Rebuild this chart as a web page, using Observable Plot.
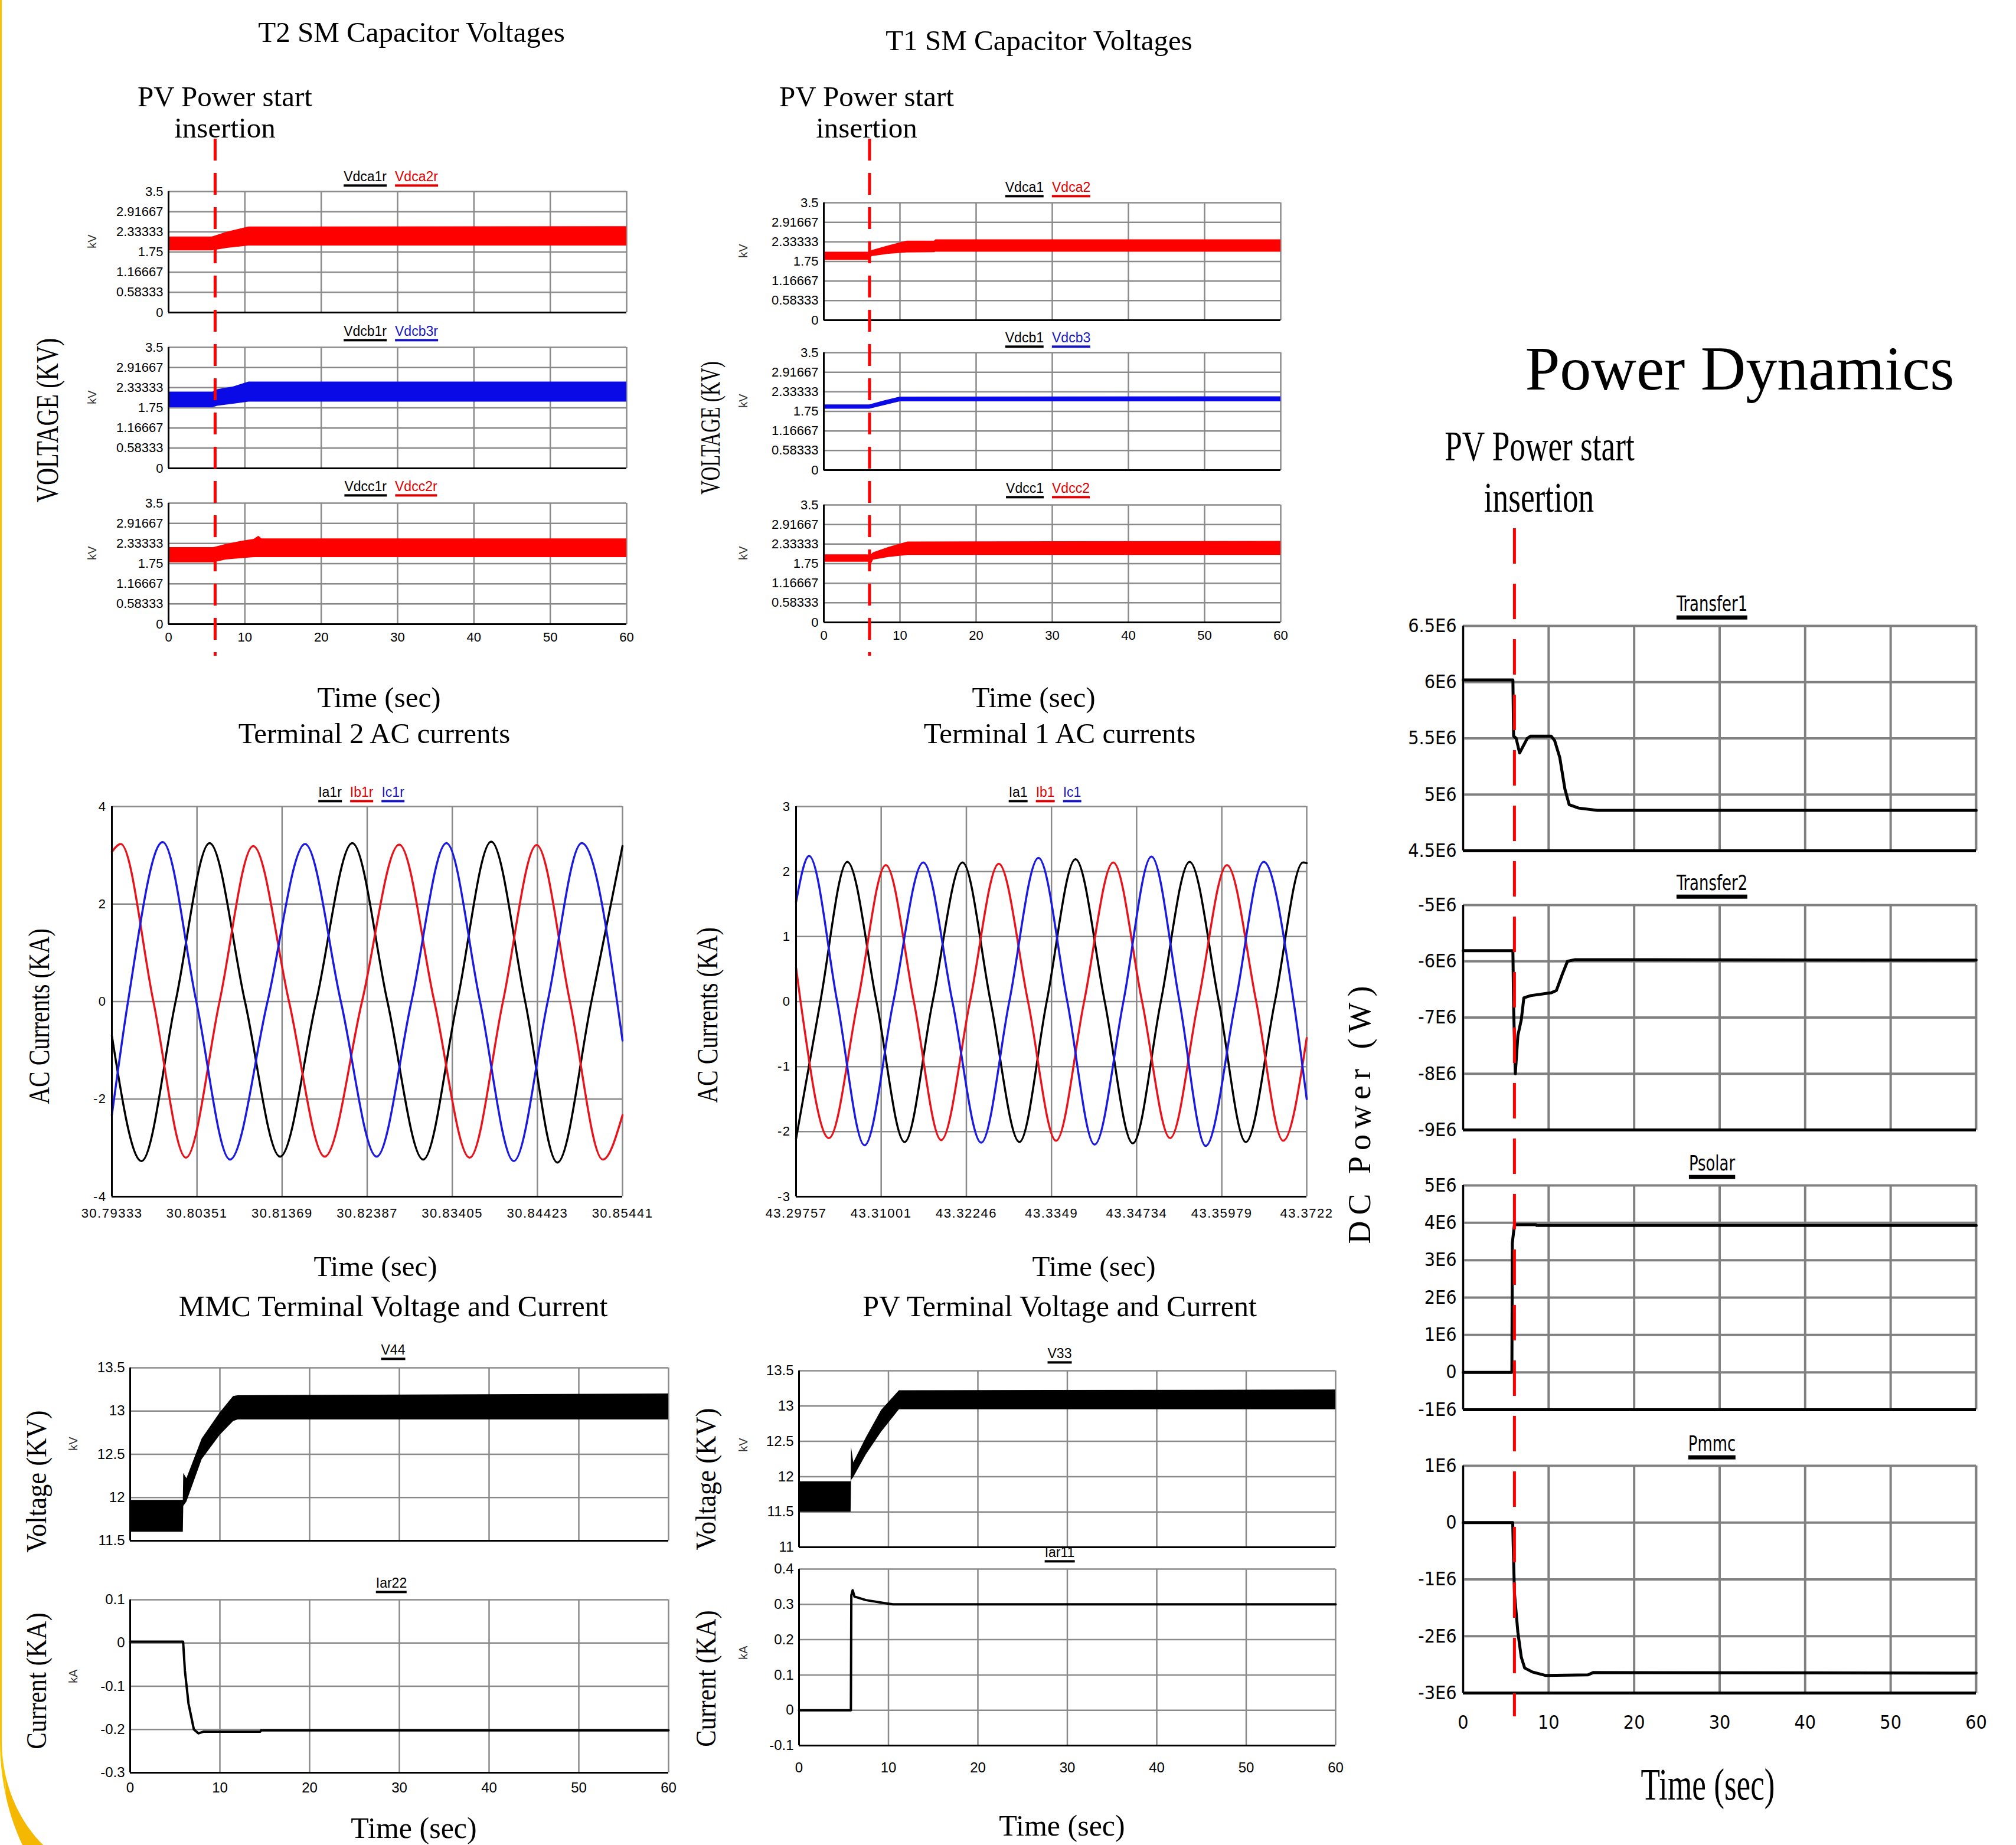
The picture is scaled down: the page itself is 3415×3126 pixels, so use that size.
<!DOCTYPE html>
<html><head><meta charset="utf-8">
<script src="https://cdn.jsdelivr.net/npm/d3@7"></script>
<script src="https://cdn.jsdelivr.net/npm/@observablehq/plot@0.6"></script>
<style>
html,body{margin:0;padding:0;background:#fff;}
#root{position:relative;width:3415px;height:3126px;overflow:hidden;background:#fff;}
.lbl{position:absolute;white-space:nowrap;transform-origin:50% 50%;line-height:1;}
.deco{position:absolute;left:0;top:-20px;width:3600px;height:3270px;border-left:3px solid #f6c400;border-bottom:70px solid #f4b800;border-bottom-left-radius:200px 300px;box-sizing:border-box;}
</style></head><body><div id="root"><div class="deco"></div></div><script>
// ---------------- DATA ----------------
const timeTicks = [0, 10, 20, 30, 40, 50, 60];
const smTicks = [0, 0.58333, 1.16667, 1.75, 2.33333, 2.91667, 3.5];
const insertionTime = [6.1, 6.0, 6.0]; // T2 panel, T1 panel, power panel

// T2 SM capacitor voltage envelopes [t, low, high] (kV)
const t2Vdca2r = [[0,1.79,2.19],[5.7,1.79,2.19],[7.7,1.86,2.33],[10.5,1.93,2.48],[60,1.93,2.49]];
const t2Vdcb3r = [[0,1.76,2.21],[5.8,1.76,2.21],[6.4,1.80,2.28],[8.5,1.86,2.36],[10.5,1.92,2.50],[60,1.92,2.50]];
const t2Vdcc2r = [[0,1.78,2.22],[5.9,1.78,2.22],[7.5,1.86,2.31],[9.5,1.90,2.40],[11.2,1.93,2.46],[11.8,1.93,2.55],[12.2,1.93,2.47],[60,1.93,2.47]];
// T1 SM capacitor voltage envelopes
const t1Vdca2 = [[0,1.79,2.03],[6.0,1.79,2.03],[6.3,1.90,2.08],[8.5,1.97,2.22],[10.9,2.01,2.36],[14.5,2.02,2.36],[14.7,2.03,2.40],[60,2.03,2.40]];
const t1Vdcb3 = [[0,1.82,1.95],[6.0,1.82,1.95],[8,1.93,2.07],[10,2.04,2.18],[60,2.04,2.19]];
const t1Vdcc2 = [[0,1.80,2.02],[5.9,1.80,2.02],[6.1,1.68,2.00],[6.5,1.86,2.08],[8.5,1.94,2.24],[11,2.00,2.40],[60,2.00,2.42]];

// Terminal 2 AC currents [t, kA]
const t2AcTicks = [30.79333, 30.80351, 30.81369, 30.82387, 30.83405, 30.84423, 30.85441];
const ia1r = [[30.79333,-0.70],[30.79688,-3.27],[30.80095,0],[30.80502,3.25],[30.80925,0],[30.81345,-3.18],[30.81777,0],[30.82209,3.25],[30.82629,0],[30.83057,-3.24],[30.83464,0],[30.83870,3.28],[30.84277,0],[30.84662,-3.30],[30.85069,0],[30.85441,3.19]];
const ib1r = [[30.79333,3.07],[30.79440,3.23],[30.79830,0],[30.80219,-3.20],[30.80621,0],[30.81024,3.19],[30.81452,0],[30.81880,-3.18],[30.82325,0],[30.82770,3.22],[30.83190,0],[30.83613,-3.20],[30.84011,0],[30.84414,3.21],[30.84812,0],[30.85206,-3.24],[30.85441,-2.33]];
const ic1r = [[30.79333,-2.33],[30.79526,0],[30.79941,3.27],[30.80343,0],[30.80746,-3.24],[30.81195,0],[30.81644,3.23],[30.82072,0],[30.82500,-3.18],[30.82916,0],[30.83335,3.25],[30.83737,0],[30.84140,-3.27],[30.84546,0],[30.84953,3.25],[30.85441,-0.80]];
// Terminal 1 AC currents
const t1AcTicks = [43.29757, 43.31001, 43.32246, 43.3349, 43.34734, 43.35979, 43.3722];
const ia1 = [[43.29757,-2.11],[43.30112,0],[43.30506,2.15],[43.30932,0],[43.31343,-2.16],[43.31753,0],[43.32190,2.14],[43.32600,0],[43.33021,-2.16],[43.33420,0],[43.33841,2.19],[43.34268,0],[43.34678,-2.18],[43.35088,0],[43.35509,2.15],[43.35935,0],[43.36329,-2.16],[43.36755,0],[43.37165,2.14],[43.3722,2.13]];
const ib1 = [[43.29757,0.52],[43.29823,0],[43.30238,-2.10],[43.30659,0],[43.31069,2.10],[43.31479,0],[43.31878,-2.13],[43.32299,0],[43.32720,2.12],[43.33147,0],[43.33557,-2.14],[43.33967,0],[43.34393,2.14],[43.34814,0],[43.35224,-2.10],[43.35635,0],[43.36055,2.10],[43.36482,0],[43.36876,-2.14],[43.3722,-0.56]];
const ic1 = [[43.29757,1.53],[43.29948,2.24],[43.30358,0],[43.30758,-2.21],[43.31179,0],[43.31616,2.14],[43.32042,0],[43.32463,-2.17],[43.32873,0],[43.33300,2.21],[43.33721,0],[43.34120,-2.20],[43.34541,0],[43.34951,2.23],[43.35361,0],[43.35744,-2.22],[43.36181,0],[43.36591,2.15],[43.37029,0],[43.3722,-1.50]];

// MMC terminal
const v44 = [[0,11.60,11.97],[5.9,11.60,11.97],[5.95,11.90,12.28],[6.3,11.95,12.22],[8,12.44,12.68],[10,12.72,12.98],[11.5,12.88,13.17],[12,12.90,13.18],[60,12.90,13.20]];
const iar22 = [[0,0.003],[5.9,0.003],[6.1,-0.064],[6.5,-0.14],[7.1,-0.20],[7.6,-0.209],[8.2,-0.205],[14.5,-0.205],[14.6,-0.202],[60,-0.202]];
// PV terminal
const v33 = [[0,11.50,11.93],[5.8,11.50,11.93],[5.85,11.95,12.42],[6.1,11.99,12.20],[7.5,12.31,12.55],[9.2,12.63,12.94],[11.2,12.95,13.22],[60,12.95,13.23]];
const iar11 = [[0,0],[5.8,0],[5.85,0.326],[6.0,0.34],[6.2,0.322],[7.5,0.312],[9.7,0.303],[10.5,0.30],[60,0.30]];

// Power dynamics [t, W]
const transfer1 = [[0,6.02e6],[5.82,6.02e6],[5.9,5.52e6],[6.2,5.50e6],[6.6,5.37e6],[7.5,5.50e6],[7.9,5.52e6],[10.3,5.52e6],[10.7,5.48e6],[11.3,5.33e6],[11.9,5.05e6],[12.4,4.91e6],[13.5,4.88e6],[15.7,4.86e6],[60,4.86e6]];
const transfer2 = [[0,-5.81e6],[5.82,-5.81e6],[5.9,-6.8e6],[6.1,-8.0e6],[6.4,-7.32e6],[6.8,-7.04e6],[7.1,-6.65e6],[7.9,-6.61e6],[10.3,-6.56e6],[10.9,-6.52e6],[11.6,-6.23e6],[12.2,-6.0e6],[13.1,-5.97e6],[60,-5.98e6]];
const psolar = [[0,0],[5.7,0],[5.75,3.46e6],[6.0,3.95e6],[8.5,3.95e6],[8.6,3.93e6],[60,3.93e6]];
const pmmc = [[0,0],[5.8,0],[5.85,-0.36e6],[6.0,-1.24e6],[6.4,-1.93e6],[6.8,-2.37e6],[7.2,-2.56e6],[8.1,-2.63e6],[9.6,-2.69e6],[14.6,-2.68e6],[15.2,-2.64e6],[60,-2.65e6]];

// ---------------- HELPERS ----------------
const root = document.getElementById("root");
const SERIF = "'Liberation Serif','Times New Roman',serif";
const SANS = "'Liberation Sans',Arial,sans-serif";
const NARROW = "'Liberation Sans Narrow','DejaVu Sans Condensed','Liberation Sans',sans-serif";
const RED = "#ff0000", BLUE = "#0a0ae6", LRED = "#e8141c", LBLUE = "#1a1ae0";

function label(text, cx, cy, {size=50, font=SERIF, rotate=0, sx=1, color="#000", ls=0}={}) {
  const d = document.createElement("div");
  d.className = "lbl"; d.textContent = text;
  d.style.left = cx + "px"; d.style.top = cy + "px";
  d.style.fontSize = size + "px"; d.style.fontFamily = font; d.style.color = color;
  if (ls) d.style.letterSpacing = ls + "px";
  d.style.transform = `translate(-50%,-50%) rotate(${rotate}deg) scaleX(${sx})`;
  root.appendChild(d);
}
function legend(items, cx, cy, {size=23, font=SANS, bar=4, gap=14, sx=1}={}) {
  const d = document.createElement("div"); d.className = "lbl";
  d.style.left = cx + "px"; d.style.top = cy + "px"; d.style.display = "flex"; d.style.gap = gap + "px";
  d.style.transform = `translate(-50%,-50%) scaleX(${sx})`;
  for (const [name, color] of items) {
    const s = document.createElement("span"); s.textContent = name;
    s.style.color = color; s.style.fontSize = size + "px"; s.style.fontFamily = font;
    s.style.borderBottom = `${bar}px solid ${color}`; s.style.lineHeight = "1.1";
    d.appendChild(s);
  }
  root.appendChild(d);
}
function chart({left, top, w, h, xDomain=[0,60], xTicks=timeTicks, showX=false, yDomain, yTicks, yFmt=String, xFmt=String,
                marks=[], font=SANS, size=22, grid="#8a8a8a", gridW=2.5, axisW=3, bottomW=3, xPad=12, yPad=9, ls=0}) {
  const mL = 170, mR = 40, mT = 20, mB = showX ? 70 : 20;
  const p = Plot.plot({
    width: w + mL + mR, height: h + mT + mB,
    marginLeft: mL, marginRight: mR, marginTop: mT, marginBottom: mB,
    style: {fontSize: size + "px", fontFamily: font, color: "#000", background: "transparent", overflow: "visible", letterSpacing: ls + "px"},
    x: {domain: xDomain, ticks: xTicks, tickFormat: xFmt, tickSize: 0, tickPadding: xPad, label: null, axis: showX ? "bottom" : null},
    y: {domain: yDomain, ticks: yTicks, tickFormat: yFmt, tickSize: 0, tickPadding: yPad, label: null, axis: "left"},
    marks: [
      Plot.ruleX(xTicks, {stroke: grid, strokeOpacity: 1, strokeWidth: gridW}),
      Plot.ruleY(yTicks, {stroke: grid, strokeOpacity: 1, strokeWidth: gridW}),
      ...marks,
      Plot.ruleX([xDomain[0]], {stroke: "#000", strokeWidth: axisW}),
      Plot.ruleY([yDomain[0]], {stroke: "#000", strokeWidth: bottomW})
    ]
  });
  p.style.position = "absolute"; p.style.left = (left - mL) + "px"; p.style.top = (top - mT) + "px";
  root.appendChild(p);
}
function dashed(left, w, y0, y1, t, dash, sw) {
  const p = Plot.plot({
    width: w, height: y1 - y0, margin: 0,
    x: {domain: [0, 60], axis: null},
    style: {background: "transparent", overflow: "visible"},
    marks: [Plot.ruleX([t], {stroke: "#ff0000", strokeWidth: sw, strokeDasharray: dash})]
  });
  p.style.position = "absolute"; p.style.left = left + "px"; p.style.top = y0 + "px";
  root.appendChild(p);
}
const band = (data, color) => Plot.areaY(data, {x: d => d[0], y1: d => d[1], y2: d => d[2], fill: color, curve: "linear"});
const ln = (data, color, sw, curve="linear") => Plot.line(data, {x: d => d[0], y: d => d[1], stroke: color, strokeWidth: sw, curve});

// ---------------- T2 SM ----------------
label("T2 SM Capacitor Voltages", 697, 54, {size: 49});
label("PV Power start", 381, 163, {size: 49});
label("insertion", 381, 216, {size: 49});
label("VOLTAGE (KV)", 80, 712, {size: 53, rotate: -90, sx: 0.76});
const t2Subs = [
  {top: 324, data: t2Vdca2r, color: RED, leg: [["Vdca1r","#000"],["Vdca2r","#d00"]], ly: 302},
  {top: 588, data: t2Vdcb3r, color: BLUE, leg: [["Vdcb1r","#000"],["Vdcb3r","#1515c0"]], ly: 564},
  {top: 852, data: t2Vdcc2r, color: RED, leg: [["Vdcc1r","#000"],["Vdcc2r","#d00"]], ly: 827}
];
t2Subs.forEach((s, i) => {
  chart({left: 285, top: s.top, w: 776, h: 205, yDomain: [0, 3.5], yTicks: smTicks, showX: i === 2, xPad: 14,
         marks: [band(s.data, s.color)]});
  legend(s.leg, 662, s.ly);
  label("kV", 156, s.top + 85, {size: 20, font: SANS, rotate: -90, color: "#333"});
});
label("Time (sec)", 642, 1181, {size: 49});

// ---------------- T1 SM ----------------
label("T1 SM Capacitor Voltages", 1760, 68, {size: 49});
label("PV Power start", 1468, 163, {size: 49});
label("insertion", 1468, 216, {size: 49});
label("VOLTAGE (KV)", 1204, 725, {size: 46, rotate: -90, sx: 0.71});
const t1Subs = [
  {top: 343, data: t1Vdca2, color: RED, leg: [["Vdca1","#000"],["Vdca2","#d00"]], ly: 320},
  {top: 597, data: t1Vdcb3, color: BLUE, leg: [["Vdcb1","#000"],["Vdcb3","#1515c0"]], ly: 575},
  {top: 855, data: t1Vdcc2, color: RED, leg: [["Vdcc1","#000"],["Vdcc2","#d00"]], ly: 830}
];
t1Subs.forEach((s, i) => {
  chart({left: 1395, top: s.top, w: 774, h: 199, yDomain: [0, 3.5], yTicks: smTicks, showX: i === 2, xPad: 14,
         marks: [band(s.data, s.color)]});
  legend(s.leg, 1775, s.ly);
  label("kV", 1259, s.top + 82, {size: 20, font: SANS, rotate: -90, color: "#333"});
});
label("Time (sec)", 1751, 1181, {size: 49});

dashed(285, 776, 235, 1111, insertionTime[0], "37,21", 5);
dashed(1395, 774, 235, 1111, insertionTime[1], "37,21", 5);

// ---------------- AC currents ----------------
label("Terminal 2 AC currents", 634, 1242, {size: 49});
label("AC Currents (KA)", 66, 1722, {size: 50, rotate: -90, sx: 0.8});
chart({left: 189, top: 1366, w: 865, h: 661, xDomain: [30.79333, 30.85441], xTicks: t2AcTicks, showX: true,
       yDomain: [-4, 4], yTicks: [-4, -2, 0, 2, 4], xPad: 20, ls: 1.5,
       marks: [ln(ia1r, "#000", 3.5, "monotone-x"), ln(ib1r, LRED, 3.5, "monotone-x"), ln(ic1r, LBLUE, 3.5, "monotone-x")]});
legend([["Ia1r","#000"],["Ib1r","#d00"],["Ic1r","#1515c0"]], 612, 1345);
label("Time (sec)", 636, 2145, {size: 49});

label("Terminal 1 AC currents", 1795, 1242, {size: 49});
label("AC Currents (KA)", 1198, 1720, {size: 50, rotate: -90, sx: 0.8});
chart({left: 1348, top: 1366, w: 865, h: 661, xDomain: [43.29757, 43.3722], xTicks: t1AcTicks, showX: true,
       yDomain: [-3, 3], yTicks: [-3, -2, -1, 0, 1, 2, 3], xPad: 20, ls: 1.5,
       marks: [ln(ia1, "#000", 3.5, "monotone-x"), ln(ib1, LRED, 3.5, "monotone-x"), ln(ic1, LBLUE, 3.5, "monotone-x")]});
legend([["Ia1","#000"],["Ib1","#d00"],["Ic1","#1515c0"]], 1770, 1345);
label("Time (sec)", 1853, 2145, {size: 49});

// ---------------- MMC terminal ----------------
label("MMC Terminal Voltage and Current", 666, 2213, {size: 50});
label("Voltage (KV)", 62, 2510, {size: 48, rotate: -90, sx: 0.93});
label("Current (KA)", 62, 2848, {size: 48, rotate: -90, sx: 0.89});
chart({left: 220, top: 2317, w: 912, h: 293, yDomain: [11.5, 13.5], yTicks: [11.5, 12, 12.5, 13, 13.5], size: 24,
       marks: [band(v44, "#000")]});
legend([["V44","#000"]], 666, 2290);
label("kV", 124, 2446, {size: 20, font: SANS, rotate: -90, color: "#333"});
chart({left: 220, top: 2710, w: 912, h: 293, yDomain: [-0.3, 0.1], yTicks: [-0.3, -0.2, -0.1, 0, 0.1], size: 24, showX: true, xPad: 16,
       marks: [ln(iar22, "#000", 4)]});
legend([["Iar22","#000"]], 663, 2685);
label("kA", 124, 2840, {size: 20, font: SANS, rotate: -90, color: "#333"});
label("Time (sec)", 701, 3097, {size: 50});

// ---------------- PV terminal ----------------
label("PV Terminal Voltage and Current", 1795, 2213, {size: 50});
label("Voltage (KV)", 1196, 2506, {size: 48, rotate: -90, sx: 0.93});
label("Current (KA)", 1196, 2844, {size: 48, rotate: -90, sx: 0.89});
chart({left: 1353, top: 2322, w: 909, h: 299, yDomain: [11, 13.5], yTicks: [11, 11.5, 12, 12.5, 13, 13.5], size: 24,
       marks: [band(v33, "#000")]});
legend([["V33","#000"]], 1795, 2296);
label("kV", 1259, 2448, {size: 20, font: SANS, rotate: -90, color: "#333"});
chart({left: 1353, top: 2658, w: 909, h: 299, yDomain: [-0.1, 0.4], yTicks: [-0.1, 0, 0.1, 0.2, 0.3, 0.4], size: 24, showX: true, xPad: 28,
       marks: [ln(iar11, "#000", 4)]});
legend([["Iar11","#000"]], 1795, 2633);
label("kA", 1259, 2800, {size: 20, font: SANS, rotate: -90, color: "#333"});
label("Time (sec)", 1799, 3093, {size: 50});

// ---------------- Power dynamics ----------------
label("Power Dynamics", 2947, 625, {size: 106});
label("PV Power start", 2608, 756, {size: 71, sx: 0.75});
label("insertion", 2607, 843, {size: 71, sx: 0.75});
label("DC Power (W)", 2303, 1884, {size: 54, rotate: -90, ls: 10});
const eFmt = d => d === 0 ? "0" : (d / 1e6) + "E6";
const pw = {left: 2478, w: 869, font: NARROW, size: 32, grid: "#808080", gridW: 4, axisW: 3, bottomW: 5, yFmt: eFmt, yPad: 11};
chart({...pw, top: 1060, h: 381, yDomain: [4.5e6, 6.5e6], yTicks: [4.5e6, 5e6, 5.5e6, 6e6, 6.5e6], marks: [ln(transfer1, "#000", 5)]});
chart({...pw, top: 1533, h: 381, yDomain: [-9e6, -5e6], yTicks: [-9e6, -8e6, -7e6, -6e6, -5e6], marks: [ln(transfer2, "#000", 5)]});
chart({...pw, top: 2008, h: 380, yDomain: [-1e6, 5e6], yTicks: [-1e6, 0, 1e6, 2e6, 3e6, 4e6, 5e6], marks: [ln(psolar, "#000", 5)]});
chart({...pw, top: 2483, h: 385, yDomain: [-3e6, 1e6], yTicks: [-3e6, -2e6, -1e6, 0, 1e6], showX: true, xPad: 38, marks: [ln(pmmc, "#000", 5)]});
legend([["Transfer1","#000"]], 2900, 1026, {size: 36, font: NARROW, bar: 7, sx: 0.8});
legend([["Transfer2","#000"]], 2900, 1499, {size: 36, font: NARROW, bar: 7, sx: 0.8});
legend([["Psolar","#000"]], 2900, 1974, {size: 36, font: NARROW, bar: 7, sx: 0.8});
legend([["Pmmc","#000"]], 2900, 2449, {size: 36, font: NARROW, bar: 7, sx: 0.8});
label("Time (sec)", 2893, 3023, {size: 76, sx: 0.7});
dashed(2478, 869, 895, 2908, insertionTime[2], "60,34", 5);
</script></body></html>
